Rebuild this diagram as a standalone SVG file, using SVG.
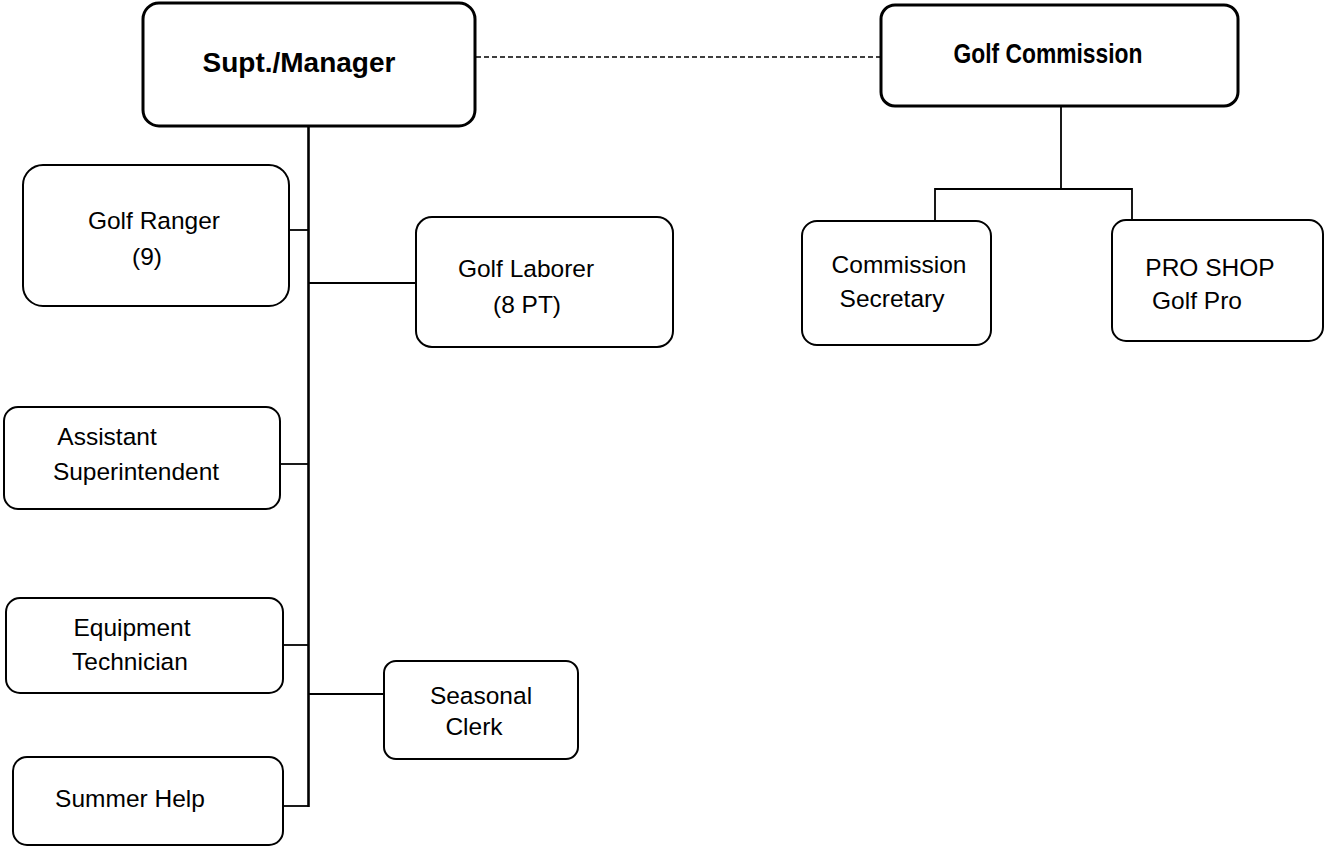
<svg xmlns="http://www.w3.org/2000/svg" width="1326" height="846" viewBox="0 0 1326 846">
  <style>
    .box { fill: #ffffff; stroke: #000000; stroke-width: 2; }
    .box-main { fill: #ffffff; stroke: #000000; stroke-width: 3; }
    .lbl { font-family: "Liberation Sans", Arial, sans-serif; font-size: 24.5px; fill: #000000; text-anchor: middle; }
    .lbl-bold { font-family: "Liberation Sans", Arial, sans-serif; font-weight: bold; font-size: 28px; fill: #000000; text-anchor: middle; }
    .wire { stroke: #000000; stroke-width: 1.8; fill: none; }
    .trunk { stroke: #000000; stroke-width: 2.6; fill: none; }
    .dotted { stroke: #000000; stroke-width: 1.6; stroke-dasharray: 5 3; fill: none; }
  </style>
  <rect width="1326" height="846" fill="#ffffff"/>

  <!-- connectors -->
  <g id="connectors">
    <line class="dotted" x1="476" y1="57" x2="881" y2="57"/>
    <line class="trunk" x1="308.5" y1="125" x2="308.5" y2="807"/>
    <line class="wire" x1="289" y1="230" x2="308" y2="230"/>
    <line class="wire" x1="308" y1="283" x2="416" y2="283"/>
    <line class="wire" x1="280" y1="464" x2="308" y2="464"/>
    <line class="wire" x1="283" y1="645" x2="308" y2="645"/>
    <line class="wire" x1="308" y1="694" x2="384" y2="694"/>
    <line class="wire" x1="283" y1="806" x2="308" y2="806"/>
    <line class="wire" x1="1061" y1="106" x2="1061" y2="189"/>
    <polyline class="wire" points="935,221 935,189 1132,189 1132,220"/>
  </g>

  <g id="supt-manager">
    <rect class="box-main" x="143" y="3" width="332" height="123" rx="16"/>
    <text class="lbl-bold" x="299" y="72">Supt./Manager</text>
  </g>

  <g id="golf-commission">
    <rect class="box-main" x="881" y="5" width="357" height="101" rx="14"/>
    <text class="lbl-bold" x="1048" y="63" textLength="189" lengthAdjust="spacingAndGlyphs">Golf Commission</text>
  </g>

  <g id="golf-ranger">
    <rect class="box" x="23" y="165" width="266" height="141" rx="20"/>
    <text class="lbl" x="154" y="229">Golf Ranger</text>
    <text class="lbl" x="147" y="265">(9)</text>
  </g>

  <g id="golf-laborer">
    <rect class="box" x="416" y="217" width="257" height="130" rx="16"/>
    <text class="lbl" x="526" y="277">Golf Laborer</text>
    <text class="lbl" x="527" y="313">(8 PT)</text>
  </g>

  <g id="commission-secretary">
    <rect class="box" x="802" y="221" width="189" height="124" rx="15"/>
    <text class="lbl" x="899" y="273">Commission</text>
    <text class="lbl" x="892" y="307">Secretary</text>
  </g>

  <g id="pro-shop">
    <rect class="box" x="1112" y="220" width="211" height="121" rx="14"/>
    <text class="lbl" x="1210" y="276">PRO SHOP</text>
    <text class="lbl" x="1197" y="309">Golf Pro</text>
  </g>

  <g id="assistant-superintendent">
    <rect class="box" x="4" y="407" width="276" height="102" rx="14"/>
    <text class="lbl" x="107" y="445">Assistant</text>
    <text class="lbl" x="136" y="480">Superintendent</text>
  </g>

  <g id="equipment-technician">
    <rect class="box" x="6" y="598" width="277" height="95" rx="14"/>
    <text class="lbl" x="132" y="636">Equipment</text>
    <text class="lbl" x="130" y="670">Technician</text>
  </g>

  <g id="seasonal-clerk">
    <rect class="box" x="384" y="661" width="194" height="98" rx="12"/>
    <text class="lbl" x="481" y="704">Seasonal</text>
    <text class="lbl" x="474" y="735">Clerk</text>
  </g>

  <g id="summer-help">
    <rect class="box" x="13" y="757" width="270" height="88" rx="14"/>
    <text class="lbl" x="130" y="807">Summer Help</text>
  </g>
</svg>
